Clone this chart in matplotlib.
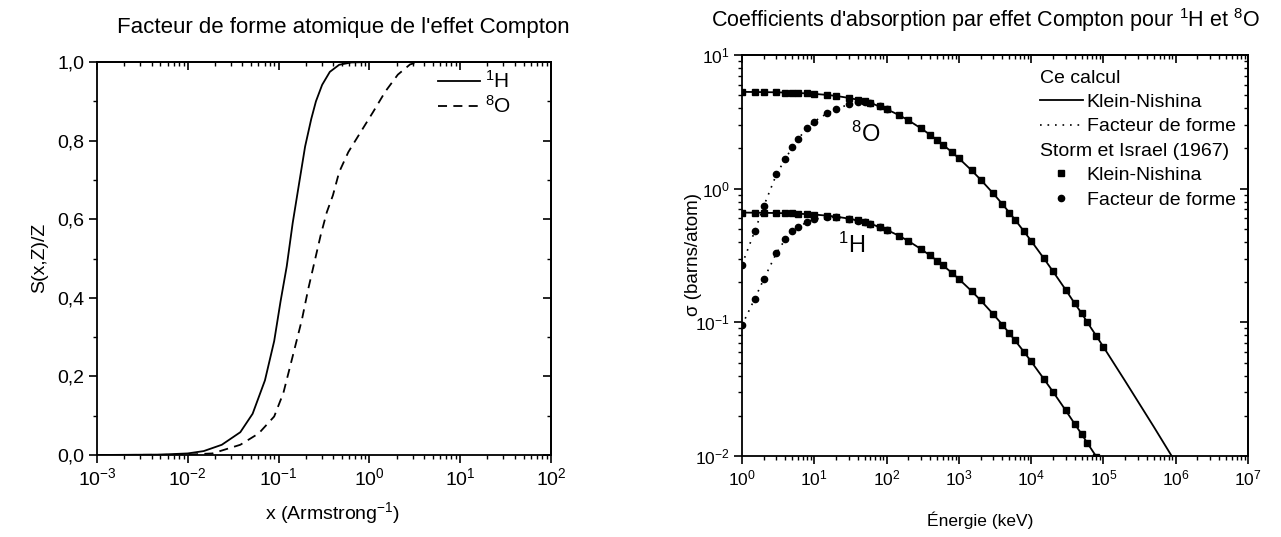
import matplotlib
matplotlib.use("Agg")
import matplotlib.pyplot as plt
from matplotlib.ticker import (LogLocator, MultipleLocator, FuncFormatter,
                               NullFormatter, LogFormatterSciNotation)
from matplotlib.lines import Line2D

plt.rcParams['font.family'] = ['Liberation Sans', 'DejaVu Sans']
plt.rcParams['mathtext.fontset'] = 'custom'
plt.rcParams['mathtext.rm'] = 'Liberation Sans'
plt.rcParams['mathtext.it'] = 'Liberation Sans:italic'
plt.rcParams['mathtext.bf'] = 'Liberation Sans:bold'
plt.rcParams['mathtext.sf'] = 'Liberation Sans'

# ---------------- incoherent scattering function S(x,Z)/Z ----------------
x_H = [0.001, 0.005, 0.01, 0.015, 0.0237, 0.0379, 0.0518, 0.0708, 0.0895,
       0.105, 0.123, 0.143, 0.168, 0.196, 0.229, 0.258, 0.302, 0.367, 0.465,
       0.636, 1.0, 100.0]
S_H = [0.0, 0.001, 0.004, 0.010, 0.026, 0.058, 0.105, 0.190, 0.290,
       0.390, 0.480, 0.590, 0.690, 0.785, 0.855, 0.900, 0.942, 0.975, 0.993,
       0.999, 1.0, 1.0]

x_O = [0.001, 0.005, 0.01, 0.0187, 0.0379, 0.0605, 0.0895, 0.113, 0.143,
       0.181, 0.212, 0.248, 0.290, 0.340, 0.397, 0.465, 0.587, 0.803, 1.10,
       1.50, 2.06, 2.81, 3.5, 100.0]
S_O = [0.0, 0.0005, 0.001, 0.004, 0.026, 0.055, 0.098, 0.158, 0.251,
       0.345, 0.422, 0.490, 0.558, 0.618, 0.661, 0.720, 0.771, 0.822, 0.873,
       0.925, 0.968, 0.994, 1.0, 1.0]

# ---------------- Compton cross sections (barns/atom) ----------------
E_kn = [1, 1.5, 2, 3, 4, 5, 6, 8,
        10, 15, 20, 30, 40, 50, 60, 80,
        100, 150, 200, 300, 400, 500, 600, 800,
        1e3, 1.5e3, 2e3, 3e3, 4e3, 5e3, 6e3, 8e3,
        1e4, 1.5e4, 2e4, 3e4, 4e4, 5e4, 6e4, 8e4,
        1e5, 2e5, 5e5, 1e6, 2e6]
sig_H_kn = [0.6627, 0.6614, 0.6601, 0.6576, 0.6550, 0.6526, 0.6501, 0.6452,
            0.6405, 0.6290, 0.6180, 0.5975, 0.5787, 0.5615, 0.5456, 0.5173,
            0.4928, 0.4436, 0.4065, 0.3535, 0.3167, 0.2892, 0.2675, 0.2350,
            0.2112, 0.1716, 0.1464, 0.1151, 0.0960, 0.0829, 0.0732, 0.0599,
            0.0510, 0.0377, 0.0303, 0.0220, 0.0174, 0.0146, 0.0125, 0.00988,
            0.00820, 0.00455, 0.00206, 0.00112, 0.000603]
sig_O_kn = [5.302, 5.291, 5.281, 5.261, 5.240, 5.221, 5.201, 5.162,
            5.124, 5.032, 4.944, 4.780, 4.630, 4.492, 4.365, 4.138,
            3.942, 3.549, 3.252, 2.828, 2.534, 2.314, 2.140, 1.880,
            1.690, 1.373, 1.171, 0.921, 0.768, 0.663, 0.586, 0.479,
            0.408, 0.302, 0.242, 0.176, 0.139, 0.117, 0.100, 0.0790,
            0.0656, 0.0364, 0.0165, 0.00894, 0.00482]
E_max_tab = 1e5   # last energy of the Storm & Israel table

E_ff = [1, 1.5, 2, 3, 4, 5, 6, 8, 10, 15, 20, 30, 40, 50, 60, 80, 100]
sig_H_ff = [0.095, 0.150, 0.210, 0.330, 0.420, 0.480, 0.515, 0.565, 0.590,
            0.614, 0.614, 0.596, 0.578, 0.561, 0.545, 0.517, 0.493]
sig_O_ff = [0.27, 0.48, 0.74, 1.28, 1.68, 2.05, 2.36, 2.85, 3.18,
            3.66, 3.93, 4.28, 4.42, 4.42, 4.34, 4.13, 3.94]

LW = 1.3

fig = plt.figure(figsize=(12.81, 5.37), dpi=100)
ax1 = fig.add_axes([0.0757, 0.1527, 0.3544, 0.7318])
ax2 = fig.add_axes([0.5792, 0.1508, 0.3950, 0.7467])


def style(ax, fs):
    ax.tick_params(which='major', direction='out', length=6, width=1.2,
                   labelsize=fs, pad=3, colors='black')
    ax.tick_params(which='minor', direction='out', length=3, width=1.0)
    for s in ax.spines.values():
        s.set_linewidth(1.3)


def mirror(ax, xmaj, xmin, ymaj, ymin):
    top = ax.secondary_xaxis('top')
    right = ax.secondary_yaxis('right')
    top.xaxis.set_major_locator(xmaj)
    top.xaxis.set_minor_locator(xmin)
    right.yaxis.set_major_locator(ymaj)
    right.yaxis.set_minor_locator(ymin)
    for sec, axis in ((top, top.xaxis), (right, right.yaxis)):
        sec.tick_params(which='major', direction='in', length=6, width=1.2)
        sec.tick_params(which='minor', direction='in', length=3, width=1.0)
        axis.set_major_formatter(NullFormatter())
        axis.set_minor_formatter(NullFormatter())
        for s in sec.spines.values():
            s.set_linewidth(1.3)


# ---------------- left panel ----------------
ax1.plot(x_H, S_H, color='black', lw=LW, label=r'$^{1}$H')
ax1.plot(x_O, S_O, color='black', lw=LW, ls=(0, (5, 3.5)), label=r'$^{8}$O')
ax1.set_xscale('log')
ax1.set_xlim(1e-3, 1e2)
ax1.set_ylim(0, 1)
ax1.xaxis.set_major_locator(LogLocator(base=10, numticks=10))
ax1.xaxis.set_minor_locator(LogLocator(base=10, subs=range(2, 10), numticks=20))
ax1.xaxis.set_major_formatter(LogFormatterSciNotation())
ax1.yaxis.set_major_locator(MultipleLocator(0.2))
ax1.yaxis.set_minor_locator(MultipleLocator(0.1))
ax1.yaxis.set_major_formatter(FuncFormatter(lambda v, p: f"{v:.1f}".replace('.', ',')))
style(ax1, 14)
mirror(ax1, LogLocator(base=10, numticks=10),
       LogLocator(base=10, subs=range(2, 10), numticks=20),
       MultipleLocator(0.2), MultipleLocator(0.1))
leg1 = ax1.legend(loc='upper left', frameon=False, fontsize=15,
                  handlelength=2.0, handletextpad=0.25, labelspacing=0.15,
                  borderpad=0, borderaxespad=0,
                  bbox_to_anchor=(438 / 1281, 1 - 70 / 537),
                  bbox_transform=fig.transFigure)

fig.text(343 / 1281, 1 - 27 / 537, "Facteur de forme atomique de l'effet Compton",
         ha='center', va='center', fontsize=16)
fig.text(333 / 1281, 1 - 513 / 537, r'x (Armstrong$^{-1}$)',
         ha='center', va='center', fontsize=14)
fig.text(40 / 1281, 1 - 258 / 537, 'S(x,Z)/Z', rotation=90,
         ha='center', va='center', fontsize=14)

# ---------------- right panel ----------------
E_tab = [e for e in E_kn if e <= E_max_tab]
n_tab = len(E_tab)

ax2.plot(E_kn, sig_O_kn, color='black', lw=LW)
ax2.plot(E_kn, sig_H_kn, color='black', lw=LW)
ax2.plot(E_ff, sig_O_ff, color='black', lw=1.2, ls=(0, (1, 3.5)))
ax2.plot(E_ff, sig_H_ff, color='black', lw=1.2, ls=(0, (1, 3.5)))
ax2.plot(E_tab, sig_O_kn[:n_tab], ls='none', marker='s', ms=4, color='black')
ax2.plot(E_tab, sig_H_kn[:n_tab], ls='none', marker='s', ms=4, color='black')
ax2.plot(E_ff, sig_O_ff, ls='none', marker='o', ms=4.5, color='black')
ax2.plot(E_ff, sig_H_ff, ls='none', marker='o', ms=4.5, color='black')

ax2.set_xscale('log')
ax2.set_yscale('log')
ax2.set_xlim(1, 1e7)
ax2.set_ylim(1e-2, 1e1)
ax2.xaxis.set_major_locator(LogLocator(base=10, numticks=12))
ax2.xaxis.set_minor_locator(LogLocator(base=10, subs=range(2, 10), numticks=30))
ax2.yaxis.set_major_locator(LogLocator(base=10, numticks=10))
ax2.yaxis.set_minor_locator(LogLocator(base=10, subs=range(2, 10), numticks=20))
style(ax2, 12.5)
mirror(ax2, LogLocator(base=10, numticks=12),
       LogLocator(base=10, subs=range(2, 10), numticks=30),
       LogLocator(base=10, numticks=10),
       LogLocator(base=10, subs=range(2, 10), numticks=20))

ax2.text(866 / 1281, 1 - 134 / 537, r'$^{8}$O', transform=fig.transFigure,
         ha='center', va='center', fontsize=17)
ax2.text(852 / 1281, 1 - 245 / 537, r'$^{1}$H', transform=fig.transFigure,
         ha='center', va='center', fontsize=17)

blank = Line2D([], [], color='none')
handles = [blank,
           Line2D([], [], color='black', lw=LW),
           Line2D([], [], color='black', lw=1.2, ls=(0, (1, 3.5))),
           blank,
           Line2D([], [], color='black', ls='none', marker='s', ms=4),
           Line2D([], [], color='black', ls='none', marker='o', ms=4.5)]
labels = ['Ce calcul', 'Klein-Nishina', 'Facteur de forme',
          'Storm et Israel (1967)', 'Klein-Nishina', 'Facteur de forme']
FS_LEG = 14
HL, HTP = 2.2, 0.2
leg2 = ax2.legend(handles, labels, loc='upper left', frameon=False,
                  fontsize=FS_LEG, handlelength=HL, handletextpad=HTP,
                  labelspacing=0.35, borderpad=0, borderaxespad=0,
                  bbox_to_anchor=(1040 / 1281, 1 - 69 / 537),
                  bbox_transform=fig.transFigure)
# section headers start where the line samples start
shift = (HL + HTP) * FS_LEG * fig.dpi / 72
for i in (0, 3):
    leg2.get_texts()[i].set_position((-shift, 0))

fig.text(986 / 1281, 1 - 20 / 537,
         r"Coefficients d'absorption par effet Compton pour $^{1}$H et $^{8}$O",
         ha='center', va='center', fontsize=15.5)
fig.text(980 / 1281, 1 - 520 / 537, 'Énergie (keV)',
         ha='center', va='center', fontsize=12.5)
fig.text(693 / 1281, 1 - 255 / 537, 'σ (barns/atom)', rotation=90,
         ha='center', va='center', fontsize=13.5)

fig.savefig('out.png', dpi=100)
